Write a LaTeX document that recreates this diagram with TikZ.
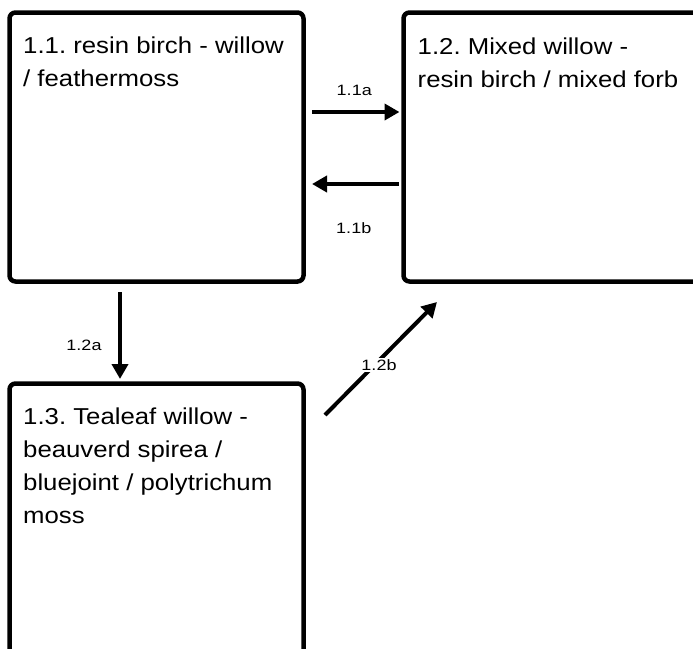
\documentclass[tikz,border=0pt]{standalone}
\usepackage{fontspec}
\setmainfont{Liberation Sans}
\newfontfamily\boxfont[FakeStretch=1.12]{Liberation Sans}
\newfontfamily\tagfont[FakeStretch=1.2]{Liberation Sans}
\usetikzlibrary{arrows.meta,calc}

% stack of lines whose baseline is the first line's baseline
\newcommand{\stacklines}[1]{\vtop{\frenchspacing#1}}

\tikzset{
  statebox/.style={draw=black, line width=4.5pt, rounded corners=6pt,
    rectangle, outer sep=0pt, inner sep=0pt, anchor=north west},
  boxtext/.style={anchor=base west, inner sep=0pt,
    font=\boxfont\fontsize{23}{33}\selectfont},
  arr/.style={line width=4pt, -{Triangle[length=15pt,width=16pt]}},
  arrlabel/.style={anchor=base, inner sep=1.5pt,
    font=\tagfont\fontsize{15}{17}\selectfont}
}

\begin{document}
\begin{tikzpicture}[x=1pt,y=-1pt]
\useasboundingbox (0,0) rectangle (693,648);

% state boxes
\node[statebox, minimum width=294pt, minimum height=269pt] (b11) at (9.5,12.5) {};
\node[statebox, minimum width=320pt, minimum height=269pt] (b12) at (403.5,12.5) {};
\node[statebox, minimum width=294pt, minimum height=300pt] (b13) at (9.5,383.5) {};

% box titles
\node[boxtext] (t11) at ($(b11.north west)+(13.5,40.5)$)
  {\stacklines{\hbox{1.1. resin birch - willow}\hbox{/ feathermoss}}};
\node[boxtext] (t12) at ($(b12.north west)+(14,41.5)$)
  {\stacklines{\hbox{1.2. Mixed willow -}\hbox{resin birch / mixed forb}}};
\node[boxtext] (t13) at ($(b13.north west)+(13.5,40.5)$)
  {\stacklines{\hbox{1.3. Tealeaf willow -}\hbox{beauverd spirea /}%
   \hbox{bluejoint / polytrichum}\hbox{moss}}};

% transitions
\coordinate (a1s) at ($(b11.north east)+(8.5,99.5)$);
\coordinate (a1e) at ($(b12.north west)+(-4,99.5)$);
\draw[arr] (a1s) -- (a1e);
\node[arrlabel] (l1a) at ($(a1s)!0.5!(a1e)+(-1.5,-17)$) {1.1a};

\coordinate (a2s) at ($(b12.north west)+(-5,171.5)$);
\coordinate (a2e) at ($(b11.north east)+(8.5,171.5)$);
\draw[arr] (a2s) -- (a2e);
\node[arrlabel] (l1b) at ($(a2s)!0.5!(a2e)+(-1.5,49)$) {1.1b};

\coordinate (a3s) at ($(b11.south west)+(110.5,10.5)$);
\coordinate (a3e) at ($(b13.north west)+(110.5,-4.5)$);
\draw[arr] (a3s) -- (a3e);
\node[arrlabel] (l2a) at ($(a3s)+(-36,58)$) {1.2a};

\coordinate (a4s) at ($(b13.north east)+(21.5,31.5)$);
\coordinate (a4e) at ($(b12.south west)+(33.5,20.5)$);
\draw[arr] (a4s) -- (a4e);
\node[arrlabel, fill=white] (l2b) at ($(a4s)!0.5!(a4e)+(-2,12)$) {1.2b};
\end{tikzpicture}
\end{document}
